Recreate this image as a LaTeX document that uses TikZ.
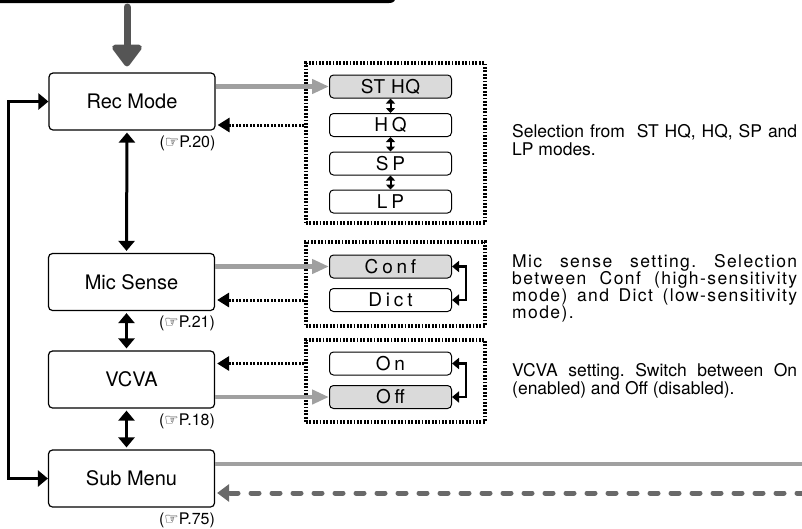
\documentclass[tikz,border=0pt]{standalone}
\usepackage{fontspec}
\setmainfont{TeX Gyre Heros}
\newfontfamily\handfont{DejaVu Sans}
\usetikzlibrary{arrows.meta, positioning}
\definecolor{mydark}{RGB}{85,85,85}
\definecolor{mygray}{RGB}{160,160,160}
\definecolor{mydash}{RGB}{105,105,105}
\definecolor{selfill}{RGB}{218,218,218}
\newcommand{\nohyph}{\hyphenpenalty=10000\relax\exhyphenpenalty=10000\relax\frenchspacing}
\newcommand{\hand}{{\handfont\fontsize{16}{16}\selectfont ☞}}
\tikzset{
  menubox/.style={rectangle, draw=black, line width=1.2pt, rounded corners=4pt,
    minimum width=166pt, minimum height=57pt, font=\fontsize{20}{24}\selectfont},
  modebox/.style={rectangle, draw=black, line width=1pt, rounded corners=4pt,
    minimum width=122pt, minimum height=23pt, inner sep=0pt,
    font=\fontsize{19}{20}\selectfont\addfontfeature{LetterSpace=20}},
  selbox/.style={modebox, fill=selfill},
  dotframe/.style={rectangle, draw=black, line width=3.5pt,
    dash pattern=on 1.8pt off 1.6pt, inner sep=0pt},
  pageref/.style={inner sep=0pt, font=\fontsize{16}{17}\selectfont},
  desc/.style={anchor=north west, inner sep=0pt, text width=285pt, align=justify,
    font=\fontsize{17.5}{18.5}\selectfont\nohyph},
  bigarrow/.style={-{Triangle[length=24pt, width=34pt, round]}, line width=7pt,
    color=mydark, line cap=round},
  grayarrow/.style={-{Triangle[length=17pt, width=14pt]}, line width=4.5pt, color=mygray},
  grayline/.style={line width=4.5pt, color=mygray},
  dotarrow/.style={-{Triangle[length=12pt, width=14pt]}, line width=3pt,
    dash pattern=on 2pt off 1.5pt},
  duplex/.style={{Triangle[length=10pt, width=16pt]}-{Triangle[length=10pt, width=16pt]},
    line width=3pt},
  tinyduplex/.style={{Triangle[length=5pt, width=9pt]}-{Triangle[length=5pt, width=9pt]},
    line width=2pt},
  elbow/.style={{Triangle[length=7pt, width=11pt]}-{Triangle[length=7pt, width=11pt]},
    line width=2.5pt},
  dashback/.style={-{Triangle[length=12pt, width=17pt]}, line width=5pt, color=mydash,
    dash pattern=on 8pt off 13pt, line cap=round}
}

\begin{document}
\begin{tikzpicture}[x=1pt, y=-1pt]
  \useasboundingbox (0,0) rectangle (802,528);
  % edge of the box above
  \draw[line width=3pt] (-5,1.5) -- (389,1.5) .. controls (393,1.5) and (394,0) .. (394,-4);

  % menu column
  \node[menubox] (recmode)  at (132,101.5) {Rec Mode};
  \node[menubox] (micsense) at (131.5,282) {Mic Sense};
  \node[menubox] (vcva)     at (131.5,379.5) {VCVA};
  \node[menubox] (submenu)  at (131.5,478.5) {Sub Menu};

  \node[pageref, below left=5pt and 0pt of recmode.south east] (refrec) {(\hand P.20)};
  \node[pageref, below left=5pt and 0pt of micsense.south east] (refmic) {(\hand P.21)};
  \node[pageref, below left=5pt and 0pt of vcva.south east] (refvcva) {(\hand P.18)};
  \node[pageref, below left=5pt and 0pt of submenu.south east] (refsub) {(\hand P.75)};

  \coordinate (entry) at (127,7);
  \draw[bigarrow] (entry) -- ([xshift=-5pt, yshift=6pt]recmode.north);

  % option frames
  \node[dotframe, minimum width=179pt, minimum height=160pt] (recframe)  at (395.5,143) {};
  \node[dotframe, minimum width=179pt, minimum height=84pt]  (micframe)  at (395.5,284) {};
  \node[dotframe, minimum width=179pt, minimum height=82pt]  (vcvaframe) at (395.5,381) {};

  \node[selbox, font=\fontsize{19}{20}\selectfont\addfontfeature{LetterSpace=3}] (sthq) at (390.5,86.5) {ST HQ};
  \node[modebox] (hq)   at (390.5,125) {HQ};
  \node[modebox] (sp)   at (390.5,163.5) {SP};
  \node[modebox] (lp)   at (390.5,201.5) {LP};
  \node[selbox]  (conf) at (390.5,266.5) {Conf};
  \node[modebox] (dict) at (390.5,300) {Dict};
  \node[modebox] (on)   at (390.5,363.5) {On};
  \node[selbox]  (off)  at (390.5,397) {Off};

  \foreach \a/\b in {sthq/hq, hq/sp, sp/lp}
    \draw[tinyduplex] (\a.south) -- (\b.north);
  \draw[elbow] (conf.east) -- ++(14,0) |- (dict.east);
  \draw[elbow] (on.east) -- ++(14,0) |- (off.east);

  % connectors
  \draw[grayarrow] (recmode.east |- sthq.west) -- (sthq.west);
  \draw[dotarrow] (recframe.west |- hq) -- ([xshift=2pt]recmode.east |- hq);
  \draw[grayarrow] (micsense.east |- conf.west) -- (conf.west);
  \draw[dotarrow] (micframe.west |- dict) -- ([xshift=2pt]micsense.east |- dict);
  \draw[dotarrow] (vcvaframe.west |- on) -- ([xshift=2pt]vcva.east |- on);
  \draw[grayarrow] (vcva.east |- off.west) -- (off.west);

  \draw[duplex, shorten <=2pt, shorten >=2pt] ([xshift=-5pt]recmode.south) -- ([xshift=-5pt]micsense.north);
  \draw[duplex, shorten <=2pt, shorten >=2pt] ([xshift=-5pt]micsense.south) -- ([xshift=-5pt]vcva.north);
  \draw[duplex, shorten <=2pt, shorten >=2pt] ([xshift=-5pt]vcva.south) -- ([xshift=-5pt]submenu.north);
  \draw[duplex] (recmode.west) -- ++(-40,0) |- (submenu.west);

  \coordinate (subout) at (805,464);
  \coordinate (subin)  at (805,493);
  \draw[grayline] (submenu.east |- subout) -- (subout);
  \draw[dashback] (subin) -- ([xshift=2pt]submenu.east |- subin);

  % descriptions
  \node[desc] (descrec)  at (512,124) {Selection from\ \ ST HQ, HQ, SP and LP modes.};
  \node[desc, font=\fontsize{17.5}{17}\selectfont\nohyph\addfontfeature{LetterSpace=8}] (descmic) at (512,254)
    {Mic sense setting. Selection\linebreak between Conf (high-sensitivity\linebreak mode) and Dict (low-sensitivity\linebreak mode).};
  \node[desc] (descvcva) at (512,363) {VCVA setting. Switch between On (enabled) and Off (disabled).};
\end{tikzpicture}
\end{document}
